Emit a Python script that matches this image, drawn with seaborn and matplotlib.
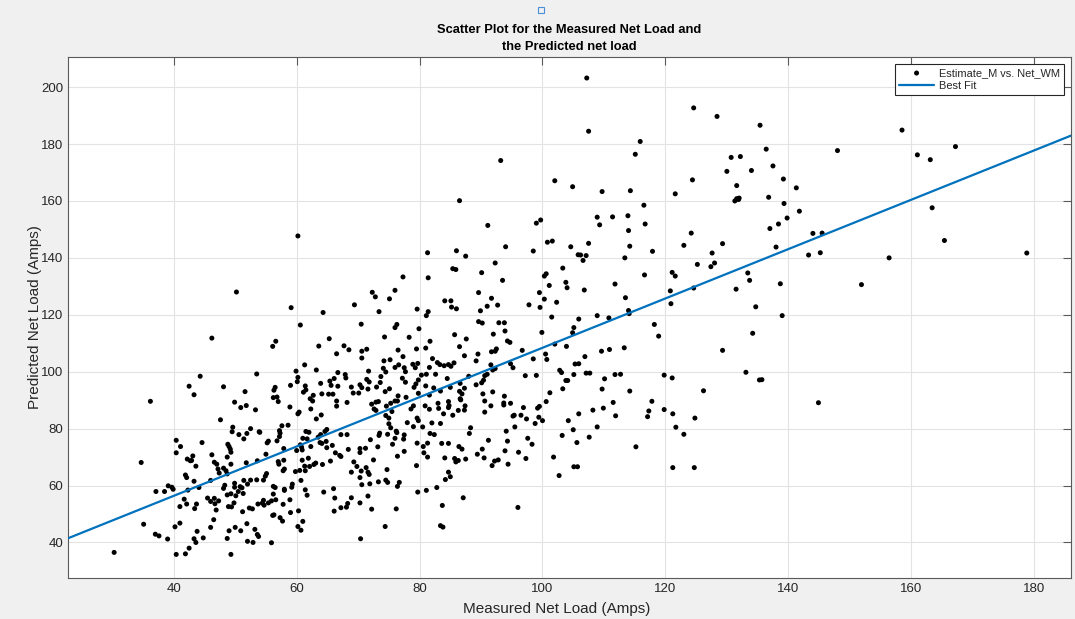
import numpy as np
import matplotlib
matplotlib.use("Agg")
import matplotlib.pyplot as plt
import seaborn as sns
from matplotlib.patches import Rectangle

measured = [
    # lower left cluster
    36.2, 49.9, 50.9, 51.8, 53.3, 47.6, 49.6, 49.5, 50.6, 51.9,
    52.5, 53.9, 51.4, 40.4, 41.1, 40.4, 44.6, 48.8, 49.0, 49.2,
    49.3, 48.7, 46.2, 43.1, 42.2, 42.7, 42.9, 34.7, 43.6, 46.6,
    47.0, 47.2, 47.4, 48.1, 49.3, 48.7, 51.8, 53.6, 41.9, 42.1,
    43.3, 46.0, 48.5, 39.1, 39.7, 39.9, 37.1, 38.5, 42.3, 44.1,
    48.1, 48.3, 48.7, 49.3, 49.9, 49.9, 50.1, 50.5, 50.8, 51.1,
    51.3, 52.0, 52.5, 53.5, 51.4, 41.7, 41.0, 42.1, 43.4, 43.7,
    45.5, 46.0, 46.6, 46.7, 47.3, 46.9, 48.9, 49.4, 49.8, 51.2,
    52.3, 52.8, 53.7, 46.5, 46.0, 41.0, 40.2, 35.1, 37.0, 37.6,
    39.0, 43.8, 43.3, 43.6, 44.8, 42.5, 41.9, 40.4, 30.3, 48.7,
    49.0, 50.0, 50.9, 51.9, 53.2, 53.6, 53.8, 52.0, 52.9, 49.3,
    # 54-80 amps, lower band
    57.0, 58.9, 62.6, 62.3, 60.4, 60.2, 64.0, 63.2, 66.5, 66.5,
    68.2, 72.2, 72.9, 73.3, 72.6, 72.9, 74.6, 75.3, 76.0, 76.4,
    75.5, 74.5, 75.0, 75.0, 75.3, 76.2, 76.3, 78.6, 79.0, 79.6,
    79.8, 79.0, 78.0, 79.6, 77.5, 77.4, 76.0, 75.6, 74.8, 73.5,
    73.4, 72.0, 73.2, 76.4, 77.5, 79.5, 79.7, 74.7, 74.5, 74.8,
    76.7, 76.4, 76.2, 74.4, 73.3, 72.5, 71.9, 71.6, 72.2, 70.3,
    70.4, 70.6, 70.3, 70.5, 71.3, 71.6, 71.8, 69.8, 69.3, 68.9,
    70.3, 70.3, 71.2, 68.4, 67.2, 68.2, 67.2, 67.0, 66.3, 65.8,
    65.5, 66.2, 66.1, 67.2, 68.1, 68.3, 68.9, 66.0, 64.4, 64.2,
    63.1, 62.8, 62.1, 62.3, 61.0, 61.5, 62.0, 61.7, 63.9, 63.5,
    63.8, 64.1, 64.8, 64.9, 64.9, 64.6, 60.6, 60.8, 60.0, 60.9,
    60.9, 61.9, 60.5, 61.4, 61.3, 59.8, 60.7, 59.3, 59.2, 58.0,
    58.0, 58.9, 59.0, 57.8, 60.3, 61.0, 60.2, 60.7, 61.4, 61.7,
    57.3, 57.2, 57.6, 58.6, 57.2, 56.8, 55.4, 55.2, 54.0, 57.9,
    55.0, 57.0, 57.1, 57.9, 57.8, 58.0, 55.1, 54.9, 54.6, 56.2,
    56.5, 56.2, 56.6, 55.9, 54.6, 54.4, 54.7, 55.4, 56.3, 56.1,
    57.3, 57.7, 55.9,
    # 80-106 amps, lower band
    80.9, 81.6, 83.0, 83.1, 83.9, 84.7, 84.8, 84.7, 85.4, 86.3,
    86.7, 87.4, 87.3, 90.6, 90.6, 91.6, 93.7, 93.7, 94.8, 96.9,
    95.2, 95.4, 96.5, 97.4, 99.2, 99.5, 99.4, 100.0, 100.6, 98.8,
    95.5, 94.1, 94.3, 91.2, 88.1, 88.3, 80.5, 82.0, 83.4, 81.7,
    82.4, 81.3, 80.6, 80.7, 81.3, 83.6, 84.7, 86.4, 86.9, 84.1,
    85.7, 85.9, 86.3, 87.5, 89.4, 90.2, 90.5, 91.8, 92.2, 92.8,
    93.9, 94.4, 96.1, 97.3, 97.6, 98.3, 84.7, 85.0, 84.2, 82.8,
    81.1, 87.1, 83.7, 96.0, 83.4, 83.8, 101.8, 102.7, 103.2, 104.2,
    105.0, 105.6, 105.1, 105.7, 105.9,
    # 106-126 amps, lower band
    108.2, 109.9, 111.5, 111.9, 108.9, 107.6, 115.2, 117.8, 117.3, 117.1,
    119.8, 121.2, 121.7, 123.0, 124.8, 121.2, 124.7,
    # left, upper
    50.2, 46.2, 44.3, 42.5, 43.3, 48.1, 51.6, 53.5,
    # 54-80 amps, middle band
    59.1, 60.6, 64.3, 69.4, 72.3, 72.8, 75.1, 76.0, 73.4, 79.6,
    70.5, 76.3, 76.0, 79.9, 78.3, 79.5, 74.3, 76.5, 77.3, 65.3,
    63.6, 67.7, 68.5, 66.5, 70.6, 71.4, 70.6, 56.6, 56.1, 61.3,
    59.9, 63.2, 60.2, 60.1, 59.0, 56.5, 56.3, 56.2, 56.8, 61.4,
    61.5, 61.1, 62.2, 62.7, 63.9, 64.1, 65.2, 65.4, 65.6, 66.1,
    65.9, 66.7, 66.7, 67.9, 68.0, 68.9, 69.2, 70.1, 70.3, 70.6,
    71.4, 71.8, 71.7, 71.6, 73.0, 73.7, 74.1, 74.2, 75.2, 74.5,
    75.1, 74.4, 73.6, 76.0, 76.6, 77.5, 77.7, 77.2, 77.7, 79.4,
    79.1, 79.8, 78.9, 79.3, 79.7, 76.5, 77.8, 79.8,
    # 80-106 amps, middle band
    93.5, 89.6, 84.1, 85.1, 85.2, 86.0, 91.7, 91.0, 92.7, 89.9,
    89.6, 90.2, 92.9, 93.8, 93.9, 92.0, 94.3, 94.7, 92.5, 92.3,
    91.7, 89.5, 87.3, 86.5, 87.6, 85.7, 81.7, 81.0, 81.4, 81.1,
    97.8, 99.5, 100.3, 99.6, 101.1, 103.8, 104.0, 102.3, 101.5, 99.9,
    96.7, 98.5, 100.5, 100.7, 102.0, 103.9, 104.9, 105.1, 105.9, 105.3,
    105.9, 82.1, 81.6, 82.9, 83.3, 84.0, 84.7, 85.1, 85.6, 80.3,
    81.1, 82.6, 81.0, 82.3, 83.4, 84.5, 85.0, 81.6, 86.6, 86.5,
    87.3, 86.9, 88.0, 89.2, 89.2, 90.1, 90.4, 90.6, 91.0, 91.6,
    91.9, 92.3, 90.3, 91.9, 93.8, 94.8, 95.2, 97.2, 99.0, 101.2,
    102.8, 103.1, 103.8, 104.1, 103.3, 105.1, 86.6,
    # 106-136 amps, middle band
    114.0, 107.5, 114.2, 107.1, 106.6, 106.2, 113.4, 117.9, 116.6, 111.8,
    106.8, 113.5, 108.9, 110.8, 114.0, 114.1, 118.2, 118.9, 120.8, 120.9,
    121.1, 121.6, 123.0, 124.2, 125.2, 124.6, 127.4, 128.0, 127.6, 129.3,
    131.5, 133.4, 133.7, 134.7, 134.2, 129.3, 106.9, 109.6, 110.9, 113.3,
    107.1, 107.7, 110.1, 111.8, 112.7, 109.7, 114.2, 119.8, 121.1, 126.2,
    133.1, 135.3,
    # 60-106 amps, upper band
    60.2, 93.2, 86.5, 102.0, 104.9, 91.1, 99.0, 99.7, 81.3, 86.0,
    87.5, 94.0, 98.5, 100.8, 101.6, 104.6, 105.8, 85.4, 85.9, 90.1,
    92.3, 103.3, 100.3, 100.6, 77.3, 81.4,
    # 106-142 amps, upper band
    107.2, 107.5, 115.9, 115.1, 124.6, 128.4, 135.4, 136.4, 130.7, 132.2,
    137.5, 130.0, 134.0, 139.2, 141.3, 131.6, 136.8, 131.3, 131.6, 132.0,
    131.9, 139.3, 141.8, 139.8, 138.4, 137.0, 124.4, 121.6, 109.7, 114.3,
    116.5, 108.9, 111.4, 113.9, 109.3, 116.7,
    # right side
    138.0, 144.0, 145.5, 143.3, 145.2, 138.7, 139.0, 148.0, 151.9, 156.4,
    158.5, 161.0, 163.1, 167.2, 163.4, 165.4, 178.8, 135.7, 144.9,
]

predicted = [
    # lower left cluster
    89.6, 89.3, 87.4, 88.1, 86.6, 83.1, 80.5, 78.9, 77.9, 78.3,
    80.0, 78.9, 76.4, 75.9, 73.7, 71.5, 75.1, 74.5, 73.7, 72.8,
    71.7, 70.0, 70.8, 70.4, 69.3, 68.7, 68.8, 68.1, 66.8, 68.2,
    67.5, 65.8, 64.4, 66.1, 67.5, 64.1, 68.0, 68.7, 63.7, 62.8,
    61.5, 61.8, 65.2, 59.9, 59.4, 58.7, 57.9, 57.9, 58.4, 59.3,
    59.0, 60.1, 56.7, 57.1, 60.8, 59.4, 56.4, 57.9, 59.6, 59.2,
    57.2, 60.5, 61.9, 62.0, 61.8, 55.2, 52.6, 53.5, 51.9, 53.5,
    55.6, 54.4, 55.5, 53.6, 54.6, 51.4, 52.6, 52.5, 53.9, 50.8,
    52.1, 51.8, 53.5, 48.0, 45.3, 46.8, 45.5, 46.4, 42.9, 42.3,
    41.2, 43.9, 41.3, 40.0, 41.6, 38.0, 36.0, 35.8, 36.5, 41.4,
    44.1, 45.3, 44.1, 46.6, 44.6, 42.8, 42.1, 40.4, 40.0, 35.8,
    # 54-80 amps, lower band
    89.5, 87.6, 89.7, 86.9, 85.8, 85.2, 84.8, 83.4, 87.9, 89.7,
    89.2, 88.6, 89.3, 89.5, 86.9, 86.4, 87.9, 88.9, 89.7, 89.7,
    86.0, 84.6, 83.7, 81.7, 80.3, 79.1, 78.6, 86.9, 88.0, 83.7,
    82.8, 80.7, 82.1, 74.9, 77.8, 76.3, 76.6, 74.5, 78.0, 78.4,
    77.6, 76.1, 73.6, 70.3, 72.0, 67.0, 57.7, 65.6, 61.9, 61.1,
    61.1, 59.7, 51.8, 45.6, 61.3, 69.0, 60.6, 56.3, 51.7, 53.9,
    41.3, 60.3, 62.8, 65.1, 66.3, 64.7, 63.9, 66.7, 68.3, 64.7,
    73.0, 71.6, 73.1, 72.7, 77.9, 77.9, 70.2, 70.6, 71.5, 74.1,
    68.6, 55.6, 51.0, 52.2, 52.4, 53.7, 55.7, 58.9, 57.7, 67.4,
    67.9, 67.4, 66.7, 73.7, 76.6, 79.0, 78.7, 76.4, 77.9, 77.0,
    75.1, 74.8, 75.5, 73.3, 79.7, 79.0, 74.3, 73.5, 72.3, 72.5,
    68.9, 69.6, 65.3, 65.2, 66.8, 64.9, 61.8, 60.5, 59.4, 58.7,
    58.3, 55.0, 50.5, 53.4, 51.1, 47.4, 45.6, 44.3, 58.5, 56.6,
    78.4, 77.2, 81.0, 81.2, 79.3, 75.7, 75.6, 75.0, 78.7, 73.0,
    71.0, 68.4, 67.5, 68.9, 65.2, 65.8, 64.2, 63.3, 61.9, 59.7,
    59.3, 57.0, 55.0, 54.6, 54.8, 53.8, 53.1, 53.9, 49.7, 49.5,
    48.7, 47.5, 39.9,
    # 80-106 amps, lower band
    88.0, 86.8, 88.9, 87.1, 85.2, 89.5, 88.1, 87.4, 84.7, 86.4,
    90.1, 88.0, 86.5, 89.7, 85.8, 88.0, 89.0, 88.3, 88.9, 87.4,
    84.4, 84.7, 84.7, 83.4, 87.2, 87.8, 84.0, 82.8, 89.5, 81.8,
    80.6, 79.1, 75.6, 75.9, 78.3, 80.3, 80.6, 82.0, 81.8, 78.3,
    77.9, 74.9, 73.7, 71.5, 70.0, 74.8, 74.8, 73.7, 72.8, 69.7,
    69.5, 68.3, 68.8, 69.3, 71.0, 72.8, 69.7, 67.0, 68.6, 69.0,
    72.2, 67.5, 71.7, 69.5, 76.6, 74.5, 64.7, 63.1, 62.1, 59.3,
    58.3, 55.7, 53.0, 52.3, 45.9, 45.4, 70.0, 63.5, 77.6, 82.8,
    79.6, 75.1, 66.6, 66.6, 85.2,
    # 106-126 amps, lower band
    86.5, 87.2, 89.2, 84.5, 80.6, 77.0, 73.6, 89.6, 86.2, 84.2,
    86.7, 85.2, 80.5, 78.0, 83.7, 66.3, 66.3,
    # left, upper
    128.0, 111.8, 98.4, 94.9, 91.9, 94.7, 93.0, 99.2,
    # 54-80 amps, middle band
    122.5, 116.4, 120.8, 123.5, 127.9, 126.3, 125.6, 128.6, 121.1, 122.0,
    116.7, 116.6, 115.5, 115.1, 112.1, 108.0, 112.2, 107.6, 105.3, 111.6,
    109.0, 109.1, 107.7, 106.3, 107.2, 107.9, 104.8, 110.7, 108.9, 102.4,
    100.2, 100.6, 98.0, 96.5, 95.2, 94.5, 93.5, 90.9, 91.1, 95.0,
    93.6, 92.8, 90.5, 91.7, 95.9, 92.2, 92.1, 96.7, 95.2, 97.6,
    92.1, 99.7, 94.9, 99.0, 97.8, 94.6, 92.5, 92.5, 95.4, 94.4,
    97.3, 96.4, 100.2, 93.9, 94.6, 98.3, 101.2, 103.8, 104.2, 99.9,
    94.0, 93.0, 96.2, 101.5, 102.4, 101.4, 100.0, 97.7, 96.3, 95.7,
    94.5, 97.1, 102.6, 101.4, 102.9, 91.5, 91.0, 92.4,
    # 80-106 amps, middle band
    132.1, 127.8, 124.9, 124.9, 122.7, 122.1, 125.8, 123.0, 123.4, 121.4,
    117.6, 117.1, 117.2, 117.2, 114.3, 113.2, 110.8, 110.3, 108.0, 107.2,
    107.0, 106.2, 105.6, 108.8, 111.5, 113.0, 110.7, 108.3, 121.1, 119.7,
    123.5, 127.8, 125.5, 122.6, 130.3, 131.4, 129.5, 124.4, 119.2, 113.8,
    107.5, 104.5, 106.2, 104.3, 109.7, 108.9, 113.7, 115.5, 118.5, 102.7,
    102.8, 104.6, 101.5, 103.2, 102.5, 102.1, 102.5, 101.9, 103.1, 98.8,
    99.1, 99.1, 95.0, 94.3, 93.2, 97.6, 94.5, 91.8, 95.9, 93.1,
    94.2, 92.2, 98.4, 103.8, 95.4, 96.1, 97.0, 98.6, 99.1, 102.4,
    100.6, 101.1, 92.2, 92.9, 91.4, 102.8, 101.4, 98.6, 98.7, 92.6,
    100.5, 99.7, 96.9, 96.9, 94.0, 99.0, 90.5,
    # 106-136 amps, middle band
    149.6, 145.1, 144.1, 140.8, 139.1, 141.0, 140.0, 142.3, 134.0, 130.8,
    128.7, 126.0, 119.7, 118.9, 121.5, 120.4, 116.6, 112.5, 128.4, 123.9,
    134.9, 133.6, 144.4, 148.7, 137.7, 129.4, 136.9, 138.2, 141.7, 145.0,
    129.0, 134.7, 132.1, 122.8, 113.5, 107.5, 105.3, 107.2, 107.8, 108.4,
    99.5, 99.5, 97.5, 99.0, 99.1, 93.9, 93.2, 98.8, 97.8, 93.3,
    99.8, 97.1,
    # 60-106 amps, upper band
    147.7, 174.2, 160.1, 167.1, 165.0, 151.4, 152.2, 153.3, 141.8, 142.5,
    140.6, 143.9, 142.4, 145.5, 145.9, 143.9, 141.1, 136.2, 135.9, 134.8,
    138.2, 136.4, 133.6, 134.4, 133.3, 133.0,
    # 106-142 amps, upper band
    203.2, 184.5, 180.9, 176.4, 192.7, 189.7, 186.6, 178.2, 175.3, 175.6,
    172.3, 170.4, 170.7, 167.7, 164.6, 165.4, 161.3, 160.0, 160.8, 161.0,
    160.5, 159.1, 156.4, 154.0, 151.9, 150.3, 167.4, 162.5, 163.3, 163.6,
    158.5, 154.3, 154.4, 154.8, 151.6, 151.9,
    # right side
    143.8, 148.6, 148.7, 141.0, 141.8, 130.9, 119.7, 177.7, 130.6, 140.0,
    184.9, 176.2, 174.5, 179.1, 157.6, 146.1, 141.7, 97.2, 89.1,
]

# best fit line (slope, intercept) as drawn in the picture
fit_slope = 0.867
fit_intercept = 21.7

x_limits = (22.8, 186.0)
y_limits = (27.5, 210.6)
x_ticks = [40, 60, 80, 100, 120, 140, 160, 180]
y_ticks = [40, 60, 80, 100, 120, 140, 160, 180, 200]

sns.set_style("white")
plt.rcParams["font.family"] = ["Liberation Sans", "DejaVu Sans"]

fig = plt.figure(figsize=(10.75, 6.19), dpi=100, facecolor="#f0f0f0")
ax = fig.add_axes([0.0633, 0.0662, 0.9330, 0.8418])
ax.set_facecolor("white")

sns.scatterplot(x=measured, y=predicted, ax=ax, color="black", s=13,
                edgecolor="none", label="Estimate_M vs. Net_WM", zorder=3)

fit_x = np.array(x_limits)
fit_y = fit_slope * fit_x + fit_intercept
sns.lineplot(x=fit_x, y=fit_y, ax=ax, color="#0072BD", linewidth=1.6,
             label="Best Fit", zorder=4)

ax.set_xlim(*x_limits)
ax.set_ylim(*y_limits)
ax.set_xticks(x_ticks)
ax.set_yticks(y_ticks)
ax.grid(True, color="#e3e3e3", linewidth=0.8)
ax.set_axisbelow(True)
for s in ax.spines.values():
    s.set_color("#5a5a5a")
    s.set_linewidth(0.8)
ax.tick_params(direction="in", top=True, right=True, length=6, width=0.8,
               color="#5a5a5a", labelsize=9.5, labelcolor="#262626")

ax.set_xlabel("Measured Net Load (Amps)", fontsize=11, color="#262626",
              labelpad=5)
ax.xaxis.label.set_x(0.4875)
ax.set_ylabel("Predicted Net Load (Amps)", fontsize=11, color="#262626",
              labelpad=-1)
ax.set_title("Scatter Plot for the Measured Net Load and\nthe Predicted net load",
             fontsize=9.3, fontweight="bold", color="black", pad=5,
             linespacing=1.55)

leg = ax.legend(loc="upper right", fontsize=7.9, frameon=True, fancybox=False,
                edgecolor="#262626", framealpha=1, borderaxespad=0.65,
                handlelength=3.2, handletextpad=0.45, borderpad=0.35,
                labelspacing=0.25)
leg.get_frame().set_linewidth(0.8)

# small selection handle above the title
fig.patches.append(Rectangle((538 / 1075, 1 - 13 / 619), 6 / 1075, 6 / 619,
                             transform=fig.transFigure, fill=False,
                             edgecolor="#4a90d9", linewidth=0.8))

fig.savefig("out.png", dpi=100, facecolor=fig.get_facecolor())
